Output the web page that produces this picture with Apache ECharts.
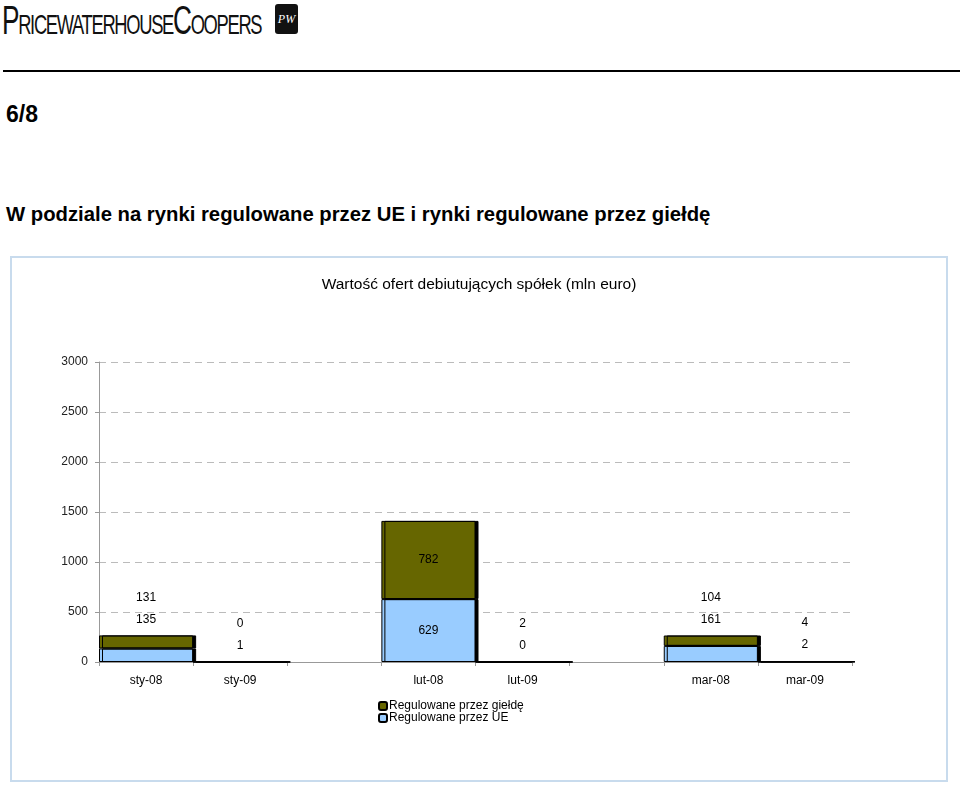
<!DOCTYPE html>
<html>
<head>
<meta charset="utf-8">
<script src="https://cdn.jsdelivr.net/npm/echarts@6/dist/echarts.min.js"></script>
<style>
  body { margin: 0; background: #fff; font-family: 'Liberation Sans', Arial, sans-serif; }
  .logo {
    position: absolute; left: 2px; top: -2px;
    font-family: 'Liberation Sans', sans-serif; font-size: 40px; color: #111;
    font-variant: small-caps; letter-spacing: -2px;
    transform: scaleX(0.655); transform-origin: left top; white-space: nowrap;
  }
  .badge {
    position: absolute; left: 275px; top: 4px; width: 23px; height: 30px;
    background: #111; border-radius: 3px; color: #fff;
    font-family: 'Liberation Serif', serif; font-size: 12px; font-style: italic;
    text-align: center; line-height: 30px;
  }
  .rule { position: absolute; left: 3px; top: 70px; width: 957px; height: 2px; background: #000; }
  .page { position: absolute; left: 6px; top: 101px; font-size: 23px; font-weight: bold; }
  .head { position: absolute; left: 6px; top: 203px; font-size: 20.3px; font-weight: bold; }
  .chart {
    position: absolute; left: 10px; top: 256px; width: 934px; height: 522px;
    border: 2px solid #c8dbed;
  }
</style>
</head>
<body>
  <div class="logo">PricewaterhouseCoopers</div>
  <div class="badge">PW</div>
  <div class="rule"></div>
  <div class="page">6/8</div>
  <div class="head">W podziale na rynki regulowane przez UE i rynki regulowane przez giełdę</div>
  <div id="myChart" class="chart"></div>
<script>
  // kategorie (puste pozycje to przerwy między grupami)
  const categories = ['sty-08', 'sty-09', '', 'lut-08', 'lut-09', '', 'mar-08', 'mar-09']
  const ue = [135, 1, null, 629, 0, null, 161, 2]
  const gielda = [131, 0, null, 782, 2, null, 104, 4]
  const yTicks = [0, 500, 1000, 1500, 2000, 2500, 3000]

  const OLIVE = '#666600'
  const BLUE = '#99ccff'

  const isSmall = i => (ue[i] || 0) + (gielda[i] || 0) < 1000

  let myChart = echarts.init(document.getElementById('myChart'))

  const barStyle = color => ({
    color: color,
    borderColor: '#000',
    borderWidth: 1,
    shadowColor: '#000',
    shadowOffsetX: 3,
    shadowOffsetY: 0,
    shadowBlur: 0
  })

  const ueData = ue.map((v, i) => ({
    value: v,
    label: { show: v !== null && !isSmall(i), position: 'inside' }
  }))

  const gieldaData = gielda.map((v, i) => {
    if (v === null) return { value: v, label: { show: false } }
    if (isSmall(i)) {
      return {
        value: v,
        label: {
          show: true,
          position: 'top',
          distance: 5,
          lineHeight: 22,
          formatter: () => gielda[i] + '\n' + ue[i]
        }
      }
    }
    return { value: v, label: { show: true, position: 'inside' } }
  })

  myChart.setOption({
    animation: false,
    textStyle: { fontFamily: 'Liberation Sans, Arial, sans-serif' },
    title: {
      text: 'Wartość ofert debiutujących spółek (mln euro)',
      left: 'center',
      top: 14,
      textStyle: { fontSize: 15.5, fontWeight: 'normal', color: '#000' }
    },
    legend: {
      orient: 'vertical',
      left: 361,
      top: 437,
      itemGap: 0,
      itemWidth: 8,
      itemHeight: 8,
      data: ['Regulowane przez giełdę', 'Regulowane przez UE'],
      textStyle: { fontSize: 12, color: '#000', lineHeight: 12, padding: [0, 0, 0, -3] }
    },
    grid: { left: 87, right: 94, top: 104, bottom: 118 },
    xAxis: {
      type: 'category',
      data: categories,
      axisLine: { lineStyle: { color: '#999', width: 1 } },
      axisTick: { show: true, length: 4, lineStyle: { color: '#999' } },
      axisLabel: { color: '#000', fontSize: 12, margin: 13 }
    },
    yAxis: {
      type: 'value',
      min: yTicks[0],
      max: yTicks[yTicks.length - 1],
      interval: 500,
      axisLine: { show: true, lineStyle: { color: '#999' } },
      axisTick: { show: true, length: 4, lineStyle: { color: '#999' } },
      axisLabel: { color: '#222', fontSize: 12, margin: 11, formatter: v => String(v) },
      splitLine: { lineStyle: { color: '#bbb', type: [7, 5] } }
    },
    series: [
      {
        name: 'Regulowane przez UE',
        type: 'bar',
        stack: 'all',
        barWidth: '100%',
        itemStyle: barStyle(BLUE),
        label: { color: '#000', fontSize: 12 },
        data: ueData
      },
      {
        name: 'Regulowane przez giełdę',
        type: 'bar',
        stack: 'all',
        barWidth: '100%',
        itemStyle: barStyle(OLIVE),
        label: { color: '#000', fontSize: 12 },
        data: gieldaData
      }
    ]
  })
</script>
</body>
</html>
